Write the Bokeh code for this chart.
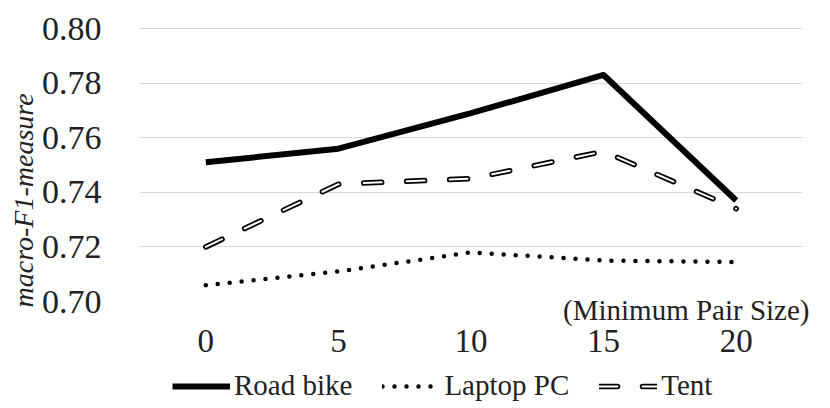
from bokeh.plotting import figure
from bokeh.layouts import column
from bokeh.models import Range1d, FixedTicker, Legend, LegendItem, Title
from bokeh.embed import file_html
from bokeh.resources import INLINE

sizes = [0, 5, 10, 15, 20]
tick_labels = ["0", "5", "10", "15", "20"]
road_bike = [0.751, 0.756, 0.769, 0.783, 0.737]
laptop_pc = [0.706, 0.711, 0.718, 0.715, 0.7145]
tent = [0.720, 0.743, 0.745, 0.755, 0.734]
y_ticks = [0.70, 0.72, 0.74, 0.76, 0.78, 0.80]
series_names = ["Road bike", "Laptop PC", "Tent"]

FONT = "Liberation Serif"
TXT = "#222222"

p = figure(frame_width=663, frame_height=274, output_backend="svg", toolbar_location=None,
           x_range=Range1d(-2.5, 22.5), y_range=Range1d(0.70, 0.8004),
           min_border_left=139, min_border_right=20, min_border_top=27,
           min_border_bottom=66)
p.outline_line_color = None
p.background_fill_color = "white"
p.border_fill_color = "white"

p.xaxis.ticker = FixedTicker(ticks=sizes)
p.xaxis.major_label_overrides = {s: t for s, t in zip(sizes, tick_labels)}
p.yaxis.ticker = FixedTicker(ticks=y_ticks)
p.yaxis.major_label_overrides = {v: f"{v:.2f}" for v in y_ticks}
for ax in (p.xaxis, p.yaxis):
    ax.axis_line_color = None
    ax.major_tick_line_color = None
    ax.minor_tick_line_color = None
    ax.major_label_text_font = FONT
    ax.major_label_text_color = TXT
p.yaxis.major_label_text_font_size = "34px"
p.xaxis.major_label_text_font_size = "33px"
p.yaxis.major_label_standoff = 32
p.xaxis.major_label_standoff = 8
p.xgrid.grid_line_color = None
p.ygrid.grid_line_color = "#d9d9d9"
p.ygrid.grid_line_width = 1.2

road_style = dict(line_color="black", line_width=6, line_join="round")
lap_style = dict(line_color="black", line_width=4.5, line_dash="0 12", line_cap="round")
tent_o_style = dict(line_color="black", line_width=5.5, line_dash="18 25", line_cap="round")
tent_i_style = dict(line_color="white", line_width=2, line_dash="18 25", line_cap="round")

p.line(sizes, road_bike, **road_style)
p.line(sizes, laptop_pc, **lap_style)
p.line(sizes, tent, **tent_o_style)
p.line(sizes, tent, **tent_i_style)

title_y = Title(text="macro-F1-measure", align="left", offset=-6, standoff=0,
                text_font=FONT, text_font_style="italic", text_font_size="28px",
                text_color=TXT)
p.add_layout(title_y, "left")

title_x = Title(text="(Minimum Pair Size)", align="right", offset=-7, standoff=-20,
                text_font=FONT, text_font_style="normal", text_font_size="29px",
                text_color=TXT)
p.add_layout(title_x, "below")
xaxis = p.xaxis[0]
p.below = [title_x, xaxis]

# legend strip underneath the chart (its frame is aligned with the chart's frame)
p2 = figure(width=822, height=38, output_backend="svg", toolbar_location=None,
            x_range=Range1d(100, 101), y_range=Range1d(100, 101),
            x_axis_location=None, y_axis_location=None,
            min_border_left=0, min_border_right=0, min_border_top=0, min_border_bottom=0)
p2.outline_line_color = None
p2.grid.visible = False
p2.background_fill_color = "white"
p2.border_fill_color = "white"
l_road = p2.line(sizes, road_bike, **road_style)
l_lap = p2.line(sizes, laptop_pc, **lap_style)
l_tent_o = p2.line(sizes, tent, **tent_o_style)
l_tent_i = p2.line(sizes, tent, **tent_i_style)

legend = Legend(items=[LegendItem(label=series_names[0], renderers=[l_road]),
                       LegendItem(label=series_names[1], renderers=[l_lap]),
                       LegendItem(label=series_names[2], renderers=[l_tent_o, l_tent_i])],
                orientation="horizontal", location=(33, 3),
                label_text_font=FONT, label_text_font_size="29px", label_text_color=TXT,
                glyph_width=58, glyph_height=20, label_standoff=4, spacing=30,
                padding=0, margin=0, border_line_color=None, background_fill_alpha=0)
p2.add_layout(legend, "center")

layout = column(p, p2, spacing=0)
open("out.html", "w").write(file_html(layout, INLINE))
